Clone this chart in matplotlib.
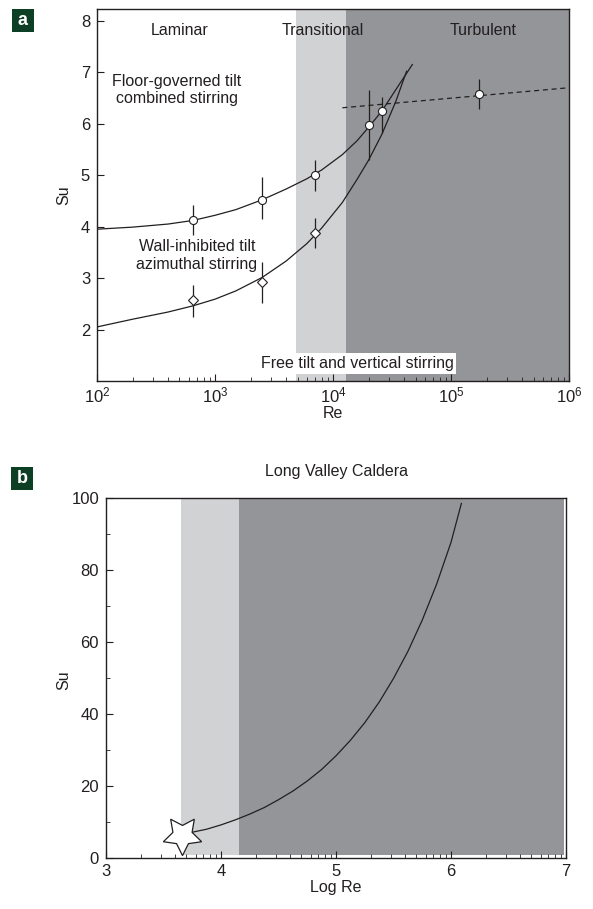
import numpy as np
import matplotlib
matplotlib.use('Agg')
from matplotlib import pyplot as plt
from matplotlib.patches import Rectangle
from matplotlib.ticker import LogLocator, FixedLocator, NullFormatter

plt.rcParams['font.family'] = ['Liberation Sans Narrow', 'Liberation Sans', 'DejaVu Sans']
plt.rcParams['mathtext.fontset'] = 'custom'
plt.rcParams['mathtext.rm'] = 'Liberation Sans Narrow'
plt.rcParams['mathtext.it'] = 'Liberation Sans Narrow:italic'
plt.rcParams['mathtext.bf'] = 'Liberation Sans Narrow:bold'

INK = '#231f20'
LIGHT = '#d1d2d4'
DARK = '#939598'
GREEN = '#0d3f24'
FS = 11.5     # annotation text
TFS = 12      # tick labels

# ---- panel a: measurements ----
re_circ = [650, 2500, 7000, 20000, 26000, 173000]
su_circ = [4.12, 4.52, 5.00, 5.97, 6.25, 6.57]
circ_lo = [3.83, 4.15, 4.70, 5.29, 5.82, 6.28]
circ_hi = [4.42, 4.97, 5.29, 6.65, 6.52, 6.87]

re_diam = [650, 2500, 7000]
su_diam = [2.58, 2.93, 3.87]
diam_lo = [2.24, 2.52, 3.58]
diam_hi = [2.87, 3.32, 4.16]

# fitted curves
re_upper = [100, 200, 400, 650, 1000, 1500, 2500, 4000, 6000, 8000,
            12000, 16000, 20000, 26000, 34000, 47000]
su_upper = [3.95, 3.99, 4.05, 4.12, 4.22, 4.33, 4.52, 4.73, 4.93, 5.10,
            5.40, 5.67, 5.93, 6.25, 6.66, 7.15]
re_lower = [100, 200, 400, 650, 1000, 1500, 2500, 4000, 6000, 8000,
            12000, 16000, 20000, 26000, 34000, 42000]
su_lower = [2.05, 2.20, 2.34, 2.46, 2.59, 2.75, 3.01, 3.33, 3.67, 3.97,
            4.47, 4.92, 5.29, 5.80, 6.43, 7.02]
re_dash = [12000, 1000000]
su_dash = [6.31, 6.70]

trans_a = (4850, 13000)
turb_a = (13000, 1000000)

# ---- panel b ----
logre_b = [3.70, 3.77, 3.875, 4.0, 4.125, 4.25, 4.375, 4.5, 4.625, 4.75, 4.875,
           5.0, 5.125, 5.25, 5.375, 5.5, 5.625, 5.75, 5.875, 6.0, 6.09]
su_b = [6.8, 7.3, 8.0, 9.2, 10.6, 12.2, 14.0, 16.2, 18.6, 21.4, 24.6,
        28.4, 32.7, 37.6, 43.3, 49.9, 57.4, 66.1, 76.1, 87.7, 98.5]
star_logre = 3.658
star_su = 6.5

trans_b = (3.65, 4.16)
turb_b = (4.16, 6.98)


fig = plt.figure(figsize=(5.93, 9.09), dpi=100)

# ================= panel a =================
axa = fig.add_axes([0.1636, 0.5809, 0.796, 0.4092])
axa.set_xscale('log')
axa.set_xlim(1e2, 1e6)
axa.set_ylim(1, 8.23)
axa.axvspan(*trans_a, color=LIGHT, lw=0, zorder=0)
axa.axvspan(*turb_a, color=DARK, lw=0, zorder=0)

axa.plot(re_upper, su_upper, color=INK, lw=0.9, zorder=2)
axa.plot(re_lower, su_lower, color=INK, lw=0.9, zorder=2)
axa.plot(re_dash, su_dash, color=INK, lw=0.9, ls=(0, (4, 3)), zorder=2)

axa.vlines(re_circ, circ_lo, circ_hi, color=INK, lw=0.9, zorder=3)
axa.vlines(re_diam, diam_lo, diam_hi, color=INK, lw=0.9, zorder=3)
axa.plot(re_circ, su_circ, 'o', ms=5.8, mfc='white', mec=INK, mew=0.8, zorder=4)
axa.plot(re_diam, su_diam, 'D', ms=5.2, mfc='white', mec=INK, mew=0.8, zorder=4)

axa.text(500, 7.82, 'Laminar', ha='center', va='center', fontsize=FS, color=INK)
axa.text(8200, 7.82, 'Transitional', ha='center', va='center', fontsize=FS, color=INK)
axa.text(1.86e5, 7.82, 'Turbulent', ha='center', va='center', fontsize=FS, color=INK)
axa.text(476, 6.65, 'Floor-governed tilt\ncombined stirring', ha='center', va='center',
         fontsize=FS, color=INK, linespacing=1.2)
axa.text(703, 3.44, 'Wall-inhibited tilt\nazimuthal stirring', ha='center', va='center',
         fontsize=FS, color=INK, linespacing=1.2)
axa.text(1.6e4, 1.34, 'Free tilt and vertical stirring', ha='center', va='center',
         fontsize=FS, color=INK,
         bbox=dict(facecolor='white', edgecolor='none', pad=2))

axa.set_yticks([2, 3, 4, 5, 6, 7, 8])
axa.xaxis.set_major_locator(LogLocator(base=10, numticks=10))
axa.xaxis.set_minor_locator(LogLocator(base=10, subs=np.arange(2, 10), numticks=20))
axa.xaxis.set_minor_formatter(NullFormatter())
axa.tick_params(which='both', direction='in', colors=INK, labelsize=TFS)
axa.tick_params(axis='y', which='major', length=5, pad=5)
axa.tick_params(axis='x', which='major', length=5, pad=3)
axa.tick_params(axis='x', which='minor', length=3)
axa.set_xlabel('Re', fontsize=FS, color=INK)
axa.set_ylabel('Su', fontsize=FS, color=INK)
axa.xaxis.set_label_coords(0.5, -0.068)
axa.yaxis.set_label_coords(-0.055, 0.5)
for s in axa.spines.values():
    s.set_color(INK)
    s.set_linewidth(1.0)

# ================= panel b =================
axb = fig.add_axes([0.1788, 0.0561, 0.7757, 0.396])
axb.set_xlim(3, 7)
axb.set_ylim(0, 100)
axb.axvspan(*trans_b, ymin=0.008, color=LIGHT, lw=0, zorder=0)
axb.axvspan(*turb_b, ymin=0.008, color=DARK, lw=0, zorder=0)
axb.plot(logre_b, su_b, color=INK, lw=0.9, zorder=2)
axb.plot([star_logre], [star_su], marker=(5, 1, 180), ms=29, mfc='white',
         mec=INK, mew=0.9, zorder=4, clip_on=False)

axb.set_title('Long Valley Caldera', fontsize=FS, color=INK, pad=16)
axb.set_xticks([3, 4, 5, 6, 7])
minor_b = [d + np.log10(k) for d in range(3, 7) for k in range(2, 10)]
axb.xaxis.set_minor_locator(FixedLocator(minor_b))
axb.set_yticks([0, 20, 40, 60, 80, 100])
axb.yaxis.set_minor_locator(FixedLocator([10, 30, 50, 70, 90]))
axb.tick_params(which='both', direction='in', colors=INK, labelsize=TFS)
axb.tick_params(which='major', length=5)
axb.tick_params(which='minor', length=3)
axb.tick_params(axis='y', pad=5)
axb.tick_params(axis='x', pad=4)
axb.set_xlabel('Log Re', fontsize=FS, color=INK)
axb.set_ylabel('Su', fontsize=FS, color=INK)
axb.xaxis.set_label_coords(0.5, -0.061)
axb.yaxis.set_label_coords(-0.076, 0.494)
for s in axb.spines.values():
    s.set_color(INK)
    s.set_linewidth(1.0)

# panel letters
for lab, (x0, y0) in [('a', (12, 9)), ('b', (11, 467))]:
    fig.patches.append(Rectangle((x0 / 593, 1 - (y0 + 23) / 909), 22 / 593, 23 / 909,
                                 transform=fig.transFigure, facecolor=GREEN,
                                 edgecolor='none'))
    fig.text((x0 + 11) / 593, 1 - (y0 + 11.5) / 909, lab, color='white',
             fontsize=13, fontweight='bold', ha='center', va='center')

fig.savefig('out.png', dpi=100)
